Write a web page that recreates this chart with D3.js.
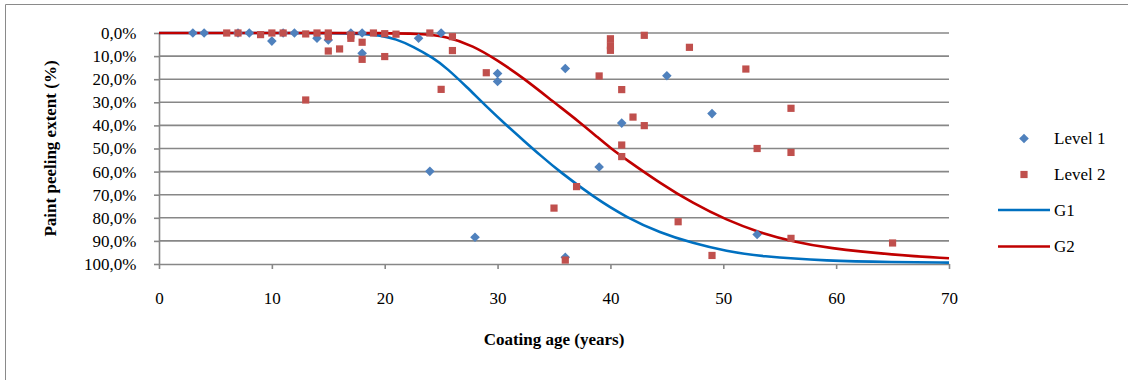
<!DOCTYPE html>
<html><head><meta charset="utf-8">
<script src="https://cdn.jsdelivr.net/npm/d3@7"></script>
<style>
body{margin:0;background:#fff}
svg{display:block}
text{font-family:"Liberation Serif","Times New Roman",serif;fill:#000}
</style></head>
<body><svg id="c" width="1128" height="380"></svg>
<script>
// ---- data ----
const xTicks = [0, 10, 20, 30, 40, 50, 60, 70];
const yTicks = [0, 10, 20, 30, 40, 50, 60, 70, 80, 90, 100];
const yTickLabels = ["0,0%","10,0%","20,0%","30,0%","40,0%","50,0%","60,0%","70,0%","80,0%","90,0%","100,0%"];

const level1Age = [3, 4, 7, 8, 10, 11, 12, 14, 15, 17, 18, 18, 23, 24, 25, 28, 30, 30, 36, 36, 39, 41, 45, 49, 53];
const level1Pct = [0, 0, 0, 0, 3.5, 0, 0, 2.3, 3, 0, 0, 8.8, 2.3, 59.9, 0, 88.4, 17.5, 21, 15.4, 97.1, 58, 39, 18.5, 34.9, 87.2];

const level2Age = [6, 7, 9, 10, 11, 13, 13, 14, 15, 15, 15, 16, 17, 17, 18, 18, 19, 20, 20, 21, 24, 25, 26, 26, 29, 35, 36, 37, 39, 40, 40, 40, 41, 41, 41, 42, 43, 43, 46, 47, 49, 52, 53, 56, 56, 56, 65];
const level2Pct = [0, 0, 0.7, 0, 0, 0.4, 29, 0, 0, 1.6, 7.8, 6.9, 0.9, 2.3, 4, 11.4, 0, 0.3, 10.2, 0.5, 0, 24.4, 1.6, 7.6, 17.2, 75.8, 98.3, 66.5, 18.6, 2.5, 5.5, 7.5, 24.5, 48.5, 53.5, 36.4, 1, 40.1, 81.7, 6.2, 96.3, 15.6, 50, 32.6, 51.7, 88.9, 90.9];

const g1Age = [0, 10, 15, 18, 19.6, 21, 22.5, 24.3, 25.5, 27.3, 29, 30.8, 32.3, 33.8, 35.5, 38.5, 41.4, 44.4, 47.3, 50.3, 53.25, 59.2, 65, 70];
const g1Pct = [0, 0, 0, 0.3, 1, 2.6, 5.8, 10.8, 15.2, 23.5, 31.8, 40, 46.5, 53, 60, 71, 79.8, 86.5, 91, 94.5, 96.7, 98.7, 99.2, 99.4];

const g2Age = [0, 15, 19.6, 23.1, 25.5, 27.85, 29.9, 32.3, 34.9, 37.3, 38.9, 40, 41.4, 44.4, 47.3, 50.3, 53.25, 56.2, 59.2, 65.1, 70];
const g2Pct = [0, 0, 0, 0.3, 1.4, 5.6, 11.5, 19.5, 29.6, 38.7, 45.3, 49.8, 54.8, 65, 73.7, 81, 86.5, 90.3, 93.1, 96.1, 97.5];

const seriesNames = ["Level 1", "Level 2", "G1", "G2"];

// ---- chart ----
const svg = d3.select("#c");
const FONT = 17;
const x = d3.scaleLinear().domain([0, 70]).range([159, 949]);
const y = d3.scaleLinear().domain([0, 100]).range([33, 264]);
const gridCol = "#878787";

// outer frame (top & left visible)
svg.append("path").attr("d", "M5.5,381V4.5H1129").attr("fill","none").attr("stroke","#8a8a8a").attr("stroke-width",1);

// gridlines
svg.append("g").selectAll("line").data(yTicks.filter(d => d < 100)).join("line")
  .attr("x1", x(0)).attr("x2", x(70)).attr("y1", d => y(d)).attr("y2", d => y(d))
  .attr("stroke", gridCol).attr("stroke-width", 1.6);

// y axis
const yAx = svg.append("g").attr("transform", `translate(${x(0)},0)`)
  .call(d3.axisLeft(y).tickValues(yTicks).tickFormat((d,i) => yTickLabels[i]).tickSize(5).tickSizeOuter(0).tickPadding(17.5));
// x axis
const xAx = svg.append("g").attr("transform", `translate(0,${y(100)})`)
  .call(d3.axisBottom(x).tickValues(xTicks).tickSize(5).tickSizeOuter(0));
[yAx, xAx].forEach(a => {
  a.select(".domain").attr("stroke", gridCol).attr("stroke-width", 1.6);
  a.selectAll(".tick line").attr("stroke", gridCol).attr("stroke-width", 1.6);
  a.selectAll("text").attr("font-size", FONT).attr("font-family", "Liberation Serif").attr("fill", "#000");
});
xAx.selectAll("text").attr("y", 34).attr("dy", "0.35em");

// axis titles
svg.append("text").attr("x", 554).attr("y", 339).attr("dy","0.35em").attr("text-anchor","middle")
  .attr("font-weight","bold").attr("font-size", FONT).text("Coating age (years)");
svg.append("text").attr("transform", "translate(50,148.5) rotate(-90)").attr("dy","0.35em").attr("text-anchor","middle")
  .attr("font-weight","bold").attr("font-size", FONT).text("Paint peeling extent (%)");

// curves
const line = d3.line().x(d => x(d[0])).y(d => y(d[1])).curve(d3.curveBasis);
svg.append("path").datum(d3.zip(g1Age, g1Pct)).attr("d", line).attr("fill","none").attr("stroke","#0070C0").attr("stroke-width",2.6);
svg.append("path").datum(d3.zip(g2Age, g2Pct)).attr("d", line).attr("fill","none").attr("stroke","#C00000").attr("stroke-width",2.6);

// markers
const diamond = (cx, cy, r) => `M${cx},${cy-r}L${cx+r},${cy}L${cx},${cy+r}L${cx-r},${cy}Z`;
svg.append("g").selectAll("path").data(d3.zip(level1Age, level1Pct)).join("path")
  .attr("d", d => diamond(x(d[0]), y(d[1]), 4.8)).attr("fill", "#4F81BD");
svg.append("g").selectAll("rect").data(d3.zip(level2Age, level2Pct)).join("rect")
  .attr("x", d => x(d[0]) - 3.6).attr("y", d => y(d[1]) - 3.6).attr("width", 7.2).attr("height", 7.2)
  .attr("fill", "#C0504D");

// legend
const lg = svg.append("g");
const legY = [138.5, 174.5, 210, 246.5];
lg.append("path").attr("d", diamond(1024, legY[0], 4.8)).attr("fill", "#4F81BD");
lg.append("rect").attr("x", 1024 - 3.6).attr("y", legY[1] - 3.6).attr("width", 7.2).attr("height", 7.2).attr("fill", "#C0504D");
lg.append("line").attr("x1", 998).attr("x2", 1050).attr("y1", legY[2]).attr("y2", legY[2]).attr("stroke","#0070C0").attr("stroke-width",2.6);
lg.append("line").attr("x1", 998).attr("x2", 1050).attr("y1", legY[3]).attr("y2", legY[3]).attr("stroke","#C00000").attr("stroke-width",2.6);
lg.selectAll("text").data(seriesNames).join("text")
  .attr("x", 1054).attr("y", (d,i) => legY[i]).attr("dy","0.35em").attr("font-size", FONT).text(d => d);
</script>
</body></html>
